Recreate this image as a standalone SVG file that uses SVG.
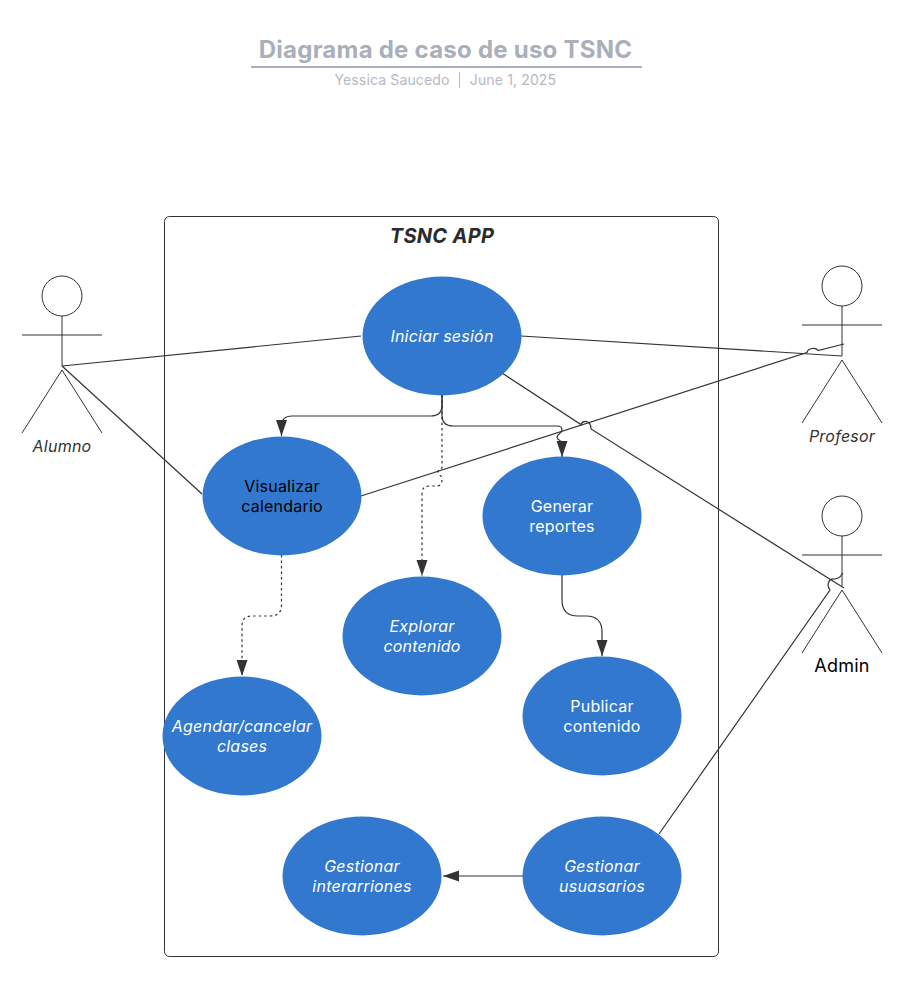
<svg xmlns="http://www.w3.org/2000/svg" width="917" height="984" viewBox="0 0 917 984">
<style>
text{font-family:Inter,"Liberation Sans",sans-serif}
.uc ellipse{fill:#3278ce}
.uc text{fill:#fff;font-size:16px;text-anchor:middle;letter-spacing:.22px}
.i{font-style:italic}
.actor *{fill:none;stroke:#333;stroke-width:1}
.actor text{fill:#333;stroke:none;font-size:16px;text-anchor:middle;letter-spacing:.22px}
.c path{fill:none;stroke:#333;stroke-width:1.2}
.d{stroke-dasharray:2.500 3}
</style>
<defs><marker id="a" markerUnits="userSpaceOnUse" markerWidth="17" markerHeight="12" refX="16" refY="6" orient="auto" viewBox="0 0 17 12"><path d="M0 .5L16 6L0 11.500Z" fill="#333"/></marker></defs>
<g id="title">
<text x="445.500" y="58" font-size="24" font-weight="700" fill="#a9afbb" text-anchor="middle" letter-spacing=".24">Diagrama de caso de uso TSNC</text>
<path d="M251 67H642" stroke="#a9afbb" stroke-width="2"/>
<text x="392" y="85" font-size="14" fill="#b4b9c4" text-anchor="middle" letter-spacing=".14">Yessica Saucedo</text>
<path d="M459.500 72V88" stroke="#b4b9c4"/>
<text x="513" y="85" font-size="14" fill="#b4b9c4" text-anchor="middle" letter-spacing=".14">June 1, 2025</text>
</g>
<g id="system">
<rect x="164.500" y="216.500" width="554" height="740" rx="5" fill="#fff" stroke="#333"/>
<text x="442" y="243" font-size="20" font-weight="700" font-style="italic" fill="#2b2b2b" text-anchor="middle" letter-spacing=".3">TSNC APP</text>
</g>
<g id="alumno" class="actor"><circle cx="62" cy="296" r="20"/><path d="M62 316V366M22 335H102M62 370L22 433M62 370L102 433"/><text class="i" x="62" y="452">Alumno</text></g>
<g id="profesor" class="actor"><circle cx="842" cy="286" r="20"/><path d="M842 306V356M802 325H882M842 360L802 423M842 360L882 423"/><text class="i" x="842" y="442">Profesor</text></g>
<g id="admin" class="actor"><circle cx="842" cy="516" r="20"/><path d="M842 536V586M802 555H882M842 590L802 653M842 590L882 653"/><text style="fill:#000;font-size:18px" x="842" y="672">Admin</text></g>
<g id="connectors" class="c">
<path d="M62 366L361 336"/>
<path d="M62 366L202 494"/>
<path d="M521 336L842 356"/>
<path d="M361 496L807 352.500C808 348 816 347 818 350.500L844 344"/>
<path d="M502 373L581 424.500C583 420 591 420 591 429L844 588"/>
<path d="M659 834L830 590C826 585 829 578 834 579C839 579 841 576 843 573"/>
<path d="M442 395V405Q442 416 431 416H292Q281.500 416 281.500 426V436" marker-end="url(#a)"/>
<path d="M442 395V415Q442 426 453 426H557Q562 426 562 430C562 434 557 434 557 437C557 441 562 439 562 445V457" marker-end="url(#a)"/>
<path class="d" d="M442 395V468C436 470 438 474 441 476C443 480 442 486 437 486H429Q422 486 422 494V576" marker-end="url(#a)"/>
<path class="d" d="M281.500 555V605Q281.500 616 270 616H252Q242 616 242 626V676" marker-end="url(#a)"/>
<path d="M562 575V600Q562 616 578 616H586Q602 616 602 632V656" marker-end="url(#a)"/>
<path d="M523 876H443" marker-end="url(#a)"/>
</g>
<g id="iniciar" class="uc"><ellipse cx="442" cy="336" rx="79.500" ry="59.500"/><text class="i" x="442" y="342">Iniciar sesión</text></g>
<g id="visualizar" class="uc"><ellipse cx="282" cy="496" rx="79.500" ry="59.500"/><text style="fill:#000" x="282" y="492">Visualizar</text><text style="fill:#000" x="282" y="512">calendario</text></g>
<g id="generar" class="uc"><ellipse cx="562" cy="516" rx="79.500" ry="59.500"/><text x="562" y="512">Generar</text><text x="562" y="532">reportes</text></g>
<g id="explorar" class="uc"><ellipse cx="422" cy="636" rx="79.500" ry="59.500"/><text class="i" x="422" y="632">Explorar</text><text class="i" x="422" y="652">contenido</text></g>
<g id="publicar" class="uc"><ellipse cx="602" cy="716" rx="79.500" ry="59.500"/><text x="602" y="712">Publicar</text><text x="602" y="732">contenido</text></g>
<g id="agendar" class="uc"><ellipse cx="242" cy="736" rx="79.500" ry="59.500"/><text class="i" x="242" y="732">Agendar/cancelar</text><text class="i" x="242" y="752">clases</text></g>
<g id="interrupciones" class="uc"><ellipse cx="362" cy="876" rx="79.500" ry="59.500"/><text class="i" x="362" y="872">Gestionar</text><text class="i" x="362" y="892">interarriones</text></g>
<g id="usuarios" class="uc"><ellipse cx="602" cy="876" rx="79.500" ry="59.500"/><text class="i" x="602" y="872">Gestionar</text><text class="i" x="602" y="892">usuasarios</text></g>
</svg>
